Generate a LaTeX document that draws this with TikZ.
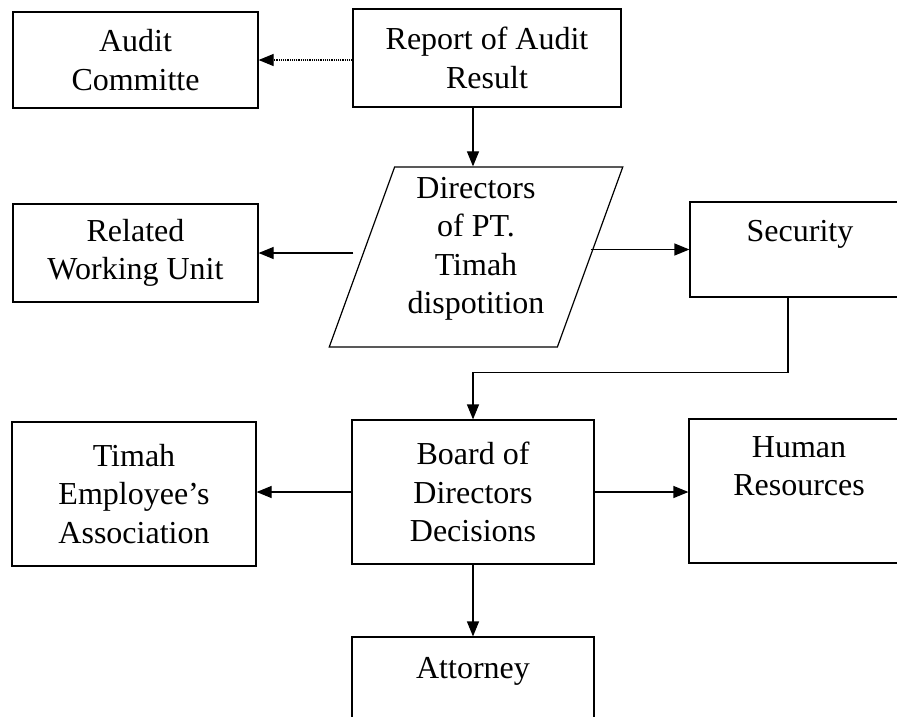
\documentclass[tikz,border=0pt]{standalone}
\usepackage{fontspec}
\setmainfont{Liberation Serif}
\usetikzlibrary{arrows.meta,shapes.geometric,calc}

\begin{document}
\begin{tikzpicture}[x=1pt,y=-1pt,>={Triangle[length=15pt,width=12pt]},line width=1.2pt,
    box/.style={draw,rectangle,align=center,inner sep=0pt,font=\fontsize{32}{38.5}\selectfont}]
  \clip (0,0) rectangle (897,716);

  \node[box,minimum width=245pt,minimum height=96pt]  (audit)  at (135.5,60) {Audit\\Committe};
  \node[box,minimum width=268pt,minimum height=98pt]  (report) at (487,58)   {Report of Audit\\Result};

  \node[box,trapezium,trapezium left angle=71,trapezium right angle=109,trapezium stretches=true,
        minimum width=294pt,minimum height=180pt] (dir) at (476,257) {Directors\\of PT.\\Timah\\dispotition\\[-27pt]\strut};
  \node[box,minimum width=245pt,minimum height=98pt]  (unit)   at (135.5,253) {Related\\Working Unit};
  \node[box,minimum width=220pt,minimum height=95pt]  (sec)    at (800,249.5) {Security\\[-12pt]\strut};

  \node[box,minimum width=242pt,minimum height=144pt] (board)  at (473,492) {Board of\\Directors\\Decisions};
  \node[box,minimum width=244pt,minimum height=144pt] (union)  at (134,494) {Timah\\Employee's\\Association};
  \node[box,minimum width=220pt,minimum height=144pt] (hr)     at (799,491) {Human\\Resources\\\strut};
  \node[box,minimum width=242pt,minimum height=144pt] (atty)   at (473,709) {Attorney\\\strut\\[-6pt]\strut};

  \path[->]
    (report.west |- audit.east)
      edge [densely dotted] (audit.east)
    (report.south -| board.north)
      edge (dir.north -| board.north)
    ($(unit.east -| dir.west)+(-8,0)$)
      edge (unit.east)
    (sec.west -| dir.east)
      edge (sec.west)
    (board.west)
      edge (board.west -| union.east)
    (board.east)
      edge (board.east -| hr.west)
    (board.south)
      edge (atty.north)
  ;
  \draw[->] ([xshift=-12pt]sec.south) -- ++(0,75) -| (board.north);
\end{tikzpicture}
\end{document}
